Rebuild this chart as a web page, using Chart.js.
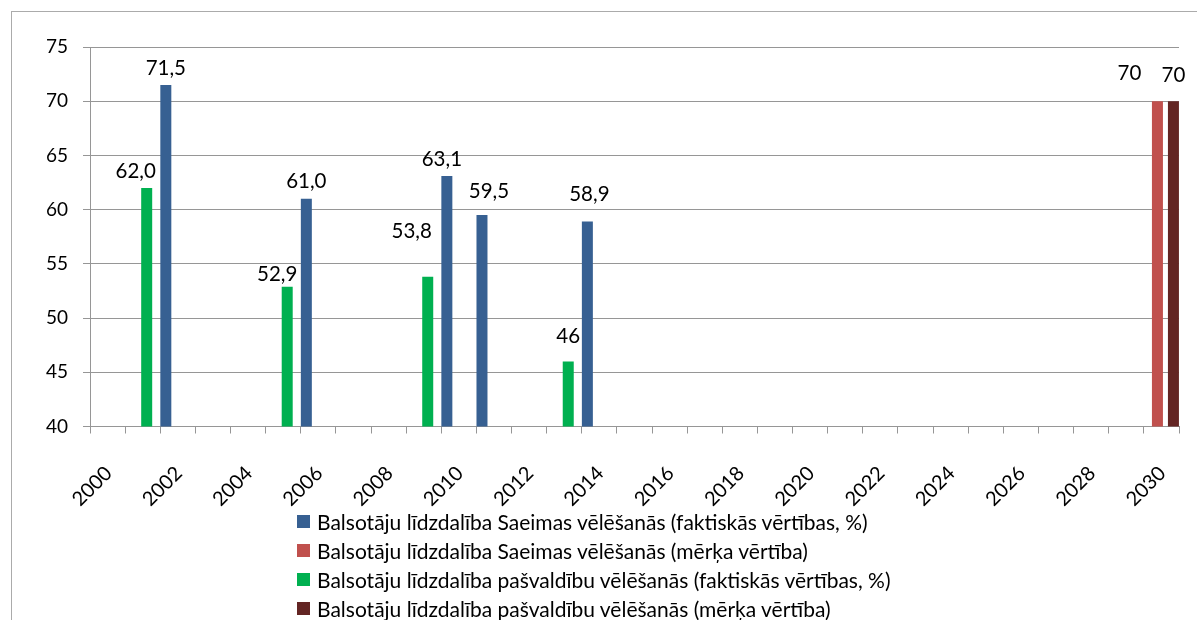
<!DOCTYPE html>
<html lang="lv">
<head>
<meta charset="utf-8">
<title>Balsotāju līdzdalība</title>
<script src="https://cdn.jsdelivr.net/npm/chart.js@4/dist/chart.umd.min.js"></script>
<style>
  html, body { margin: 0; padding: 0; background: #fff; overflow: hidden; }
  #wrap { position: relative; width: 1197px; height: 620px; }
  #frame {
    position: absolute; left: 11px; top: 11px; width: 1300px; height: 700px;
    border-left: 1px solid #ababab; border-top: 1px solid #ababab;
  }
  #chart { position: absolute; left: 0; top: 0; }
  #legend {
    position: absolute; left: 297px; top: 507px;
    font-family: Lato, "Open Sans", sans-serif; font-size: 21px; color: #000;
  }
  #legend .row { height: 29px; line-height: 29px; white-space: nowrap; display: flex; align-items: center; }
  #legend .box { width: 13px; height: 13px; margin-right: 7px; flex: none; }
</style>
</head>
<body>
<div id="wrap">
  <div id="frame"></div>
  <canvas id="chart" width="1197" height="620"></canvas>
  <div id="legend"></div>
</div>
<script>
// Voter turnout chart (Saeima and municipal elections, actual vs target).

const years = [
  '2000', '2001', '2002', '2003', '2004', '2005', '2006', '2007', '2008', '2009', '2010',
  '2011', '2012', '2013', '2014', '2015', '2016', '2017', '2018', '2019', '2020',
  '2021', '2022', '2023', '2024', '2025', '2026', '2027', '2028', '2029', '2030',
];

const saeimasYears = ['2002', '2006', '2010', '2011', '2014'];
const saeimasActual = [71.5, 61.0, 63.1, 59.5, 58.9];
const saeimasDecimals = [1, 1, 1, 1, 1];

const targetYears = ['2030'];
const saeimasTarget = [70];
const targetDecimals = [0];

const pasvYears = ['2001', '2005', '2009', '2013'];
const pasvActual = [62.0, 52.9, 53.8, 46];
const pasvDecimals = [1, 1, 1, 0];

const pasvTarget = [70];

const yTicks = [40, 45, 50, 55, 60, 65, 70, 75];

const FONT = 'Lato, "Open Sans", sans-serif';
const GRID = '#969696';

// Hand-placed label nudges (dx, extra lift) like the original, per dataset and year.
const labelNudge = [
  { '2010': [-5, 0], '2011': [7, 7], '2014': [2, 10] },
  { '2030': [-28, 11] },
  { '2001': [-11, 0], '2005': [-10, -5], '2009': [-16, 28], '2013': [0, 8] },
  { '2030': [0, 9] },
];

function points(xs, ys, decimals) {
  return xs.map((x, i) => ({ x, y: ys[i], d: decimals[i] }));
}

const fmt = (v, d) => v.toFixed(d).replace('.', ',');

const valueLabels = {
  id: 'valueLabels',
  afterDatasetsDraw(chart) {
    const ctx = chart.ctx;
    ctx.save();
    ctx.font = `20.5px ${FONT}`;
    ctx.fillStyle = '#000';
    ctx.textAlign = 'center';
    ctx.textBaseline = 'middle';
    chart.data.datasets.forEach((ds, di) => {
      const meta = chart.getDatasetMeta(di);
      meta.data.forEach((bar, i) => {
        const p = ds.data[i];
        const nudge = labelNudge[di][p.x] || [0, 0];
        ctx.fillText(fmt(p.y, p.d), bar.x + nudge[0], bar.y - 17 - nudge[1]);
      });
    });
    ctx.restore();
  },
};

const chart = new Chart(document.getElementById('chart'), {
  type: 'bar',
  data: {
    labels: years,
    datasets: [
      {
        label: 'Balsotāju līdzdalība Saeimas vēlēšanās (faktiskās vērtības, %)',
        data: points(saeimasYears, saeimasActual, saeimasDecimals),
        backgroundColor: '#376092',
      },
      {
        label: 'Balsotāju līdzdalība Saeimas vēlēšanās (mērķa vērtība)',
        data: points(targetYears, saeimasTarget, targetDecimals),
        backgroundColor: '#c0504d',
      },
      {
        label: 'Balsotāju līdzdalība pašvaldību vēlēšanās (faktiskās vērtības, %)',
        data: points(pasvYears, pasvActual, pasvDecimals),
        backgroundColor: '#00b050',
      },
      {
        label: 'Balsotāju līdzdalība pašvaldību vēlēšanās (mērķa vērtība)',
        data: points(targetYears, pasvTarget, targetDecimals),
        backgroundColor: '#632523',
      },
    ],
  },
  options: {
    responsive: false,
    animation: false,
    categoryPercentage: 0.911,
    barPercentage: 1.375,
    layout: { padding: { top: 47, left: 10, right: 18, bottom: 113.5 } },
    plugins: {
      legend: { display: false },
      tooltip: { enabled: false },
    },
    scales: {
      x: {
        offset: true,
        afterFit: (s) => {
          s.height = 80;
          s.paddingLeft = 0;
          s.paddingRight = 0;
        },
        border: { display: true, color: GRID, width: 1 },
        grid: {
          offset: true,
          color: (c) => (c.index === years.length ? GRID : 'rgba(0,0,0,0)'),
          tickColor: GRID,
          tickLength: 7,
          lineWidth: 1,
        },
        ticks: {
          autoSkip: false,
          minRotation: 45,
          maxRotation: 45,
          labelOffset: 1,
          padding: 28,
          color: '#000',
          font: { family: FONT, size: 20 },
          callback: (v, i) => (i % 2 === 0 ? years[i] : ''),
        },
      },
      y: {
        min: 40,
        max: 75,
        afterFit: (s) => { s.width = 80; },
        afterBuildTicks: (s) => { s.ticks = yTicks.map((value) => ({ value })); },
        border: { display: true, color: GRID, width: 1 },
        grid: { color: GRID, tickColor: GRID, tickLength: 7, lineWidth: 1 },
        ticks: {
          padding: 15,
          color: '#000',
          font: { family: FONT, size: 19 },
        },
      },
    },
  },
  plugins: [valueLabels],
});

// Stacked left-aligned legend, as in the original
const legendEl = document.getElementById('legend');
chart.data.datasets.forEach((ds) => {
  const row = document.createElement('div');
  row.className = 'row';
  const box = document.createElement('span');
  box.className = 'box';
  box.style.background = ds.backgroundColor;
  const text = document.createElement('span');
  text.textContent = ds.label;
  row.append(box, text);
  legendEl.appendChild(row);
});
</script>
</body>
</html>
